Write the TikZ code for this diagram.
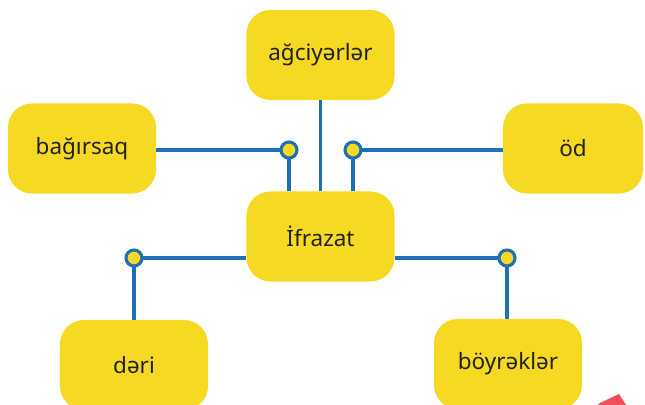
\documentclass[tikz,border=0pt]{standalone}
\usepackage{fontspec}
\setmainfont{Noto Sans}
\usepackage{xcolor}
\usetikzlibrary{positioning}

\definecolor{boxyellow}{HTML}{F6D922}
\definecolor{lineblue}{HTML}{1E6FB4}
\definecolor{textdark}{HTML}{222222}
\definecolor{markred}{HTML}{F0505A}

\begin{document}
\begin{tikzpicture}[x=0.025cm, y=0.025cm]
    \tikzstyle{organ} = [rectangle, rounded corners=0.6cm, fill=boxyellow, text=textdark, minimum width=3.7cm, minimum height=2.25cm, font=\fontsize{16}{19}\selectfont]
    \tikzstyle{joint} = [circle, draw=lineblue, fill=boxyellow, line width=2.2pt, minimum size=0.4cm, inner sep=0pt]
    \tikzstyle{line} = [draw=lineblue, line width=2.2pt]

    \useasboundingbox (0,0) rectangle (645,405);

    \node [organ] (excr) at (320.5,168.5) {İfrazat};
    \node [organ] (lungs) at (320.5,350) {ağciyərlər};
    \node [organ] (intest) at (82,256.5) {bağırsaq};
    \node [organ, minimum width=3.5cm] (bile) at (573,256.5) {öd};
    \node [organ] (skin) at (134,40) {dəri};
    \node [organ] (kidney) at (508,41) {böyrəklər};

    % junction points
    \coordinate (j1) at (289,255);
    \coordinate (j2) at (353,255);
    \coordinate (j3) at (134,147);
    \coordinate (j4) at (507,147);

    \path [line] (lungs) -- (excr);
    \path [line] (intest.east |- j1) -- (j1);
    \path [line] (j1) -- (j1 |- excr.north);
    \path [line] (bile.west |- j2) -- (j2);
    \path [line] (j2) -- (j2 |- excr.north);
    \path [line] (excr.west |- j3) -- (j3);
    \path [line] (j3) -- (j3 |- skin.north);
    \path [line] (excr.east |- j4) -- (j4);
    \path [line] (j4) -- (j4 |- kidney.north);

    \foreach \j in {j1,j2,j3,j4}
        \node [joint] at (\j) {};

    \fill [markred] (598,0) -- (600,2) -- (619,11) -- (626,0) -- cycle;
\end{tikzpicture}
\end{document}
